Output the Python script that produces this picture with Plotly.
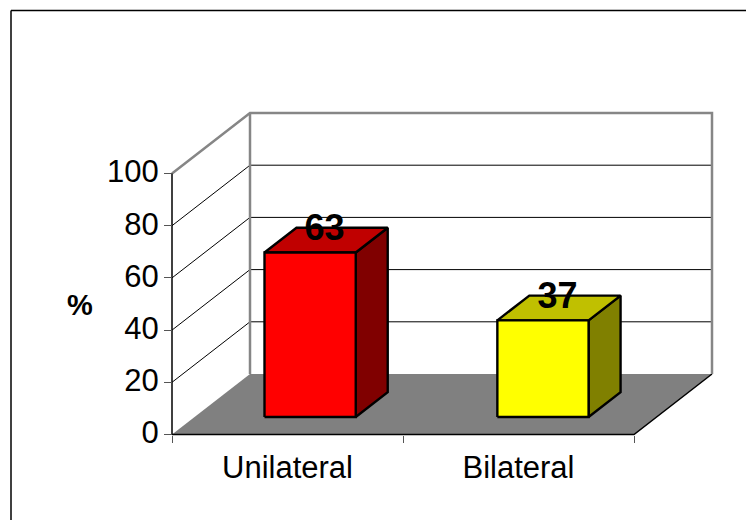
"""
3D-look bar chart: unilateral vs bilateral share (%).
Faces are polygons on ordinary x/y axes, depth is a fixed shift in axis units.
"""
import plotly.graph_objects as go

categories = ["Unilateral", "Bilateral"]
values = [63, 37]
front_colors = ["#ff0000", "#ffff00"]
top_colors = ["#c00000", "#c0c000"]
side_colors = ["#800000", "#808000"]
y_ticks = [0, 20, 40, 60, 80, 100]
x_ticks = [0, 1, 2]
category_pos = [0.5, 1.5]
bar_pos = [0.5, 1.508]

WIDTH, HEIGHT = 746, 520
X0_PX, X_SCALE = 172, 231      # px of category 0, px per category
Y0_PX, Y_SCALE = 434.5, 2.61   # px of value 0, px per %
DX = 78 / X_SCALE              # full chart depth, in axis units
DY = 60.5 / Y_SCALE

BAR_WIDTH = 0.395
BAR_FRONT, BAR_BACK = 0.29, 0.70   # bar placement along the depth
LABEL_LIFT = 9 / Y_SCALE           # value labels sit a bit above the top face centre
LABEL_SHIFT = -1.5 / X_SCALE
FONT = "Liberation Sans"
GRID = "#000000"
WALL = "#868686"


def line(xs, ys, color="#000000", width=1.0):
    return go.Scatter(x=xs, y=ys, mode="lines", line=dict(color=color, width=width),
                      hoverinfo="skip", showlegend=False)


def face(xs, ys, fill, width=2.4):
    return go.Scatter(x=xs + xs[:1], y=ys + ys[:1], mode="lines", fill="toself", fillcolor=fill,
                      line=dict(color="#000000", width=width),
                      hoverinfo="skip", showlegend=False)


fig = go.Figure()

# floor
fig.add_trace(go.Scatter(x=[0, DX, 2 + DX, 2, 0], y=[0, DY, DY, 0, 0], mode="lines", fill="toself",
                         fillcolor="#808080", line=dict(width=0), hoverinfo="skip", showlegend=False))
fig.add_trace(line([0, 2, 2 + DX], [0, 0, DY], width=1.5))

# gridlines on side and back wall
for v in y_ticks[1:-1]:
    fig.add_trace(line([0, DX, 2 + DX], [v, v + DY, v + DY], color=GRID, width=1))

# wall outline
fig.add_trace(line([0, DX, 2 + DX, 2 + DX], [100, 100 + DY, 100 + DY, DY], color=WALL, width=2.5))
fig.add_trace(line([DX, DX], [100 + DY, DY], color=WALL, width=2.5))
fig.add_trace(line([0, 0], [0, 100], width=1.5))

# bars
for pos, val, front, top, side in zip(bar_pos, values, front_colors, top_colors, side_colors):
    x0 = pos - BAR_WIDTH / 2 + BAR_FRONT * DX
    x1 = x0 + BAR_WIDTH
    y0 = BAR_FRONT * DY
    y1 = y0 + val
    dx = (BAR_BACK - BAR_FRONT) * DX
    dy = (BAR_BACK - BAR_FRONT) * DY
    fig.add_trace(face([x1, x1 + dx, x1 + dx, x1], [y0, y0 + dy, y1 + dy, y1], side))
    fig.add_trace(face([x0, x1, x1 + dx, x0 + dx], [y1, y1, y1 + dy, y1 + dy], top))
    fig.add_trace(face([x0, x1, x1, x0], [y0, y0, y1, y1], front))
    fig.add_trace(go.Scatter(x=[x0 + BAR_WIDTH / 2 + dx / 2 + LABEL_SHIFT], y=[y1 + dy / 2 + LABEL_LIFT],
                             mode="text", text=[str(val)],
                             textposition="middle center", cliponaxis=False,
                             textfont=dict(family=FONT, size=36, color="#000000", weight="bold"),
                             hoverinfo="skip", showlegend=False))

fig.add_annotation(x=80 / WIDTH, y=1 - 305 / HEIGHT, xref="paper", yref="paper", text="<b>%</b>",
                   xanchor="center", yanchor="middle",
                   showarrow=False, font=dict(family=FONT, size=29, color="#000000"))

# chart frame, top and left only
fig.add_shape(type="line", xref="paper", yref="paper", x0=11 / WIDTH, x1=1, y0=1 - 10.5 / HEIGHT, y1=1 - 10.5 / HEIGHT,
              line=dict(color="#000000", width=1.5))
fig.add_shape(type="line", xref="paper", yref="paper", x0=11 / WIDTH, x1=11 / WIDTH, y0=0, y1=1 - 10.5 / HEIGHT,
              line=dict(color="#000000", width=1.5))

fig.update_layout(
    width=WIDTH, height=HEIGHT, margin=dict(l=0, r=0, t=0, b=0),
    paper_bgcolor="#ffffff", plot_bgcolor="#ffffff", showlegend=False,
    font=dict(family=FONT, color="#000000"),
    xaxis=dict(domain=[0, 1], range=[-X0_PX / X_SCALE, (WIDTH - X0_PX) / X_SCALE],
               anchor="free", position=(HEIGHT - Y0_PX) / HEIGHT, side="bottom",
               showgrid=False, zeroline=False, showline=False,
               tickmode="array", tickvals=category_pos, ticktext=categories,
               ticks="", tickfont=dict(family=FONT, size=31), ticklabelstandoff=11,
               minor=dict(tickmode="array", tickvals=x_ticks, ticks="outside", ticklen=7,
                          tickcolor="#555555", tickwidth=1, showgrid=False)),
    yaxis=dict(domain=[0, 1], range=[-(HEIGHT - Y0_PX) / Y_SCALE, Y0_PX / Y_SCALE],
               anchor="free", position=X0_PX / WIDTH, side="left",
               showgrid=False, zeroline=False, showline=False,
               tickmode="array", tickvals=y_ticks, ticktext=[str(t) for t in y_ticks],
               ticks="outside", ticklen=8, tickcolor="#555555", tickwidth=1,
               tickfont=dict(family=FONT, size=31), ticklabelstandoff=-1, ticklabelshift=-2),
)

fig.write_html("out.html", config=dict(displayModeBar=False),
               post_script="document.body.style.margin='0';document.body.style.overflow='hidden';")
